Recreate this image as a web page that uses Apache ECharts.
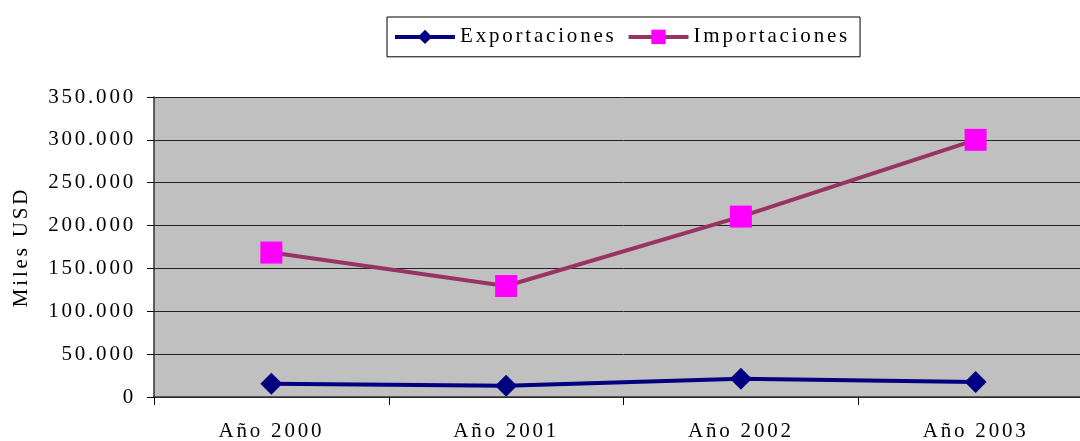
<!DOCTYPE html>
<html>
<head>
<meta charset="utf-8">
<script src="https://cdn.jsdelivr.net/npm/echarts@6/dist/echarts.min.js"></script>
<style>
html,body{margin:0;padding:0;background:#fff;overflow:hidden;}
#c{width:1093px;height:441px;}
</style>
</head>
<body>
<div id="c"></div>
<script>
// Excel-like character spacing for all text (applied to both drawing and measuring)
(function () {
  const P = CanvasRenderingContext2D.prototype;
  const ft = P.fillText, mt = P.measureText;
  P.fillText = function () { try { this.letterSpacing = '2.8px'; } catch (e) {} return ft.apply(this, arguments); };
  P.measureText = function () { try { this.letterSpacing = '2.8px'; } catch (e) {} return mt.apply(this, arguments); };
})();

const categories = ['Año 2000', 'Año 2001', 'Año 2002', 'Año 2003'];
const exportaciones = [15500, 13200, 21300, 17500];
const importaciones = [168500, 129500, 210500, 300000];
const yTicks = { min: 0, max: 350000, interval: 50000 };

const font = 'serif';

function draw() {
  const chart = echarts.init(document.getElementById('c'), null, { renderer: 'canvas' });
  chart.setOption({
    animation: false,
    textStyle: { fontFamily: font },
    legend: {
      left: 387, top: 17,
      padding: [8, 10, 8, 6],
      itemGap: 10,
      itemWidth: 60, itemHeight: 18,
      borderColor: '#000', borderWidth: 1,
      lineStyle: { width: 4 },
      textStyle: { fontFamily: font, fontSize: 21, color: '#000' },
      data: ['Exportaciones', 'Importaciones']
    },
    grid: {
      left: 154, top: 97, bottom: 44, right: 0,
      outerBoundsMode: 'none', containLabel: false,
      show: true, backgroundColor: '#C0C0C0', borderWidth: 0
    },
    xAxis: {
      type: 'category',
      data: categories,
      axisLine: { lineStyle: { color: '#333', width: 1.5 } },
      axisTick: { show: true, length: 8, lineStyle: { color: '#000' } },
      axisLabel: { fontFamily: font, fontSize: 21, color: '#000', margin: 23 }
    },
    yAxis: {
      type: 'value',
      min: yTicks.min, max: yTicks.max, interval: yTicks.interval,
      name: 'Miles USD', nameLocation: 'middle', nameGap: 121,
      nameTextStyle: { fontFamily: font, fontSize: 21, color: '#000' },
      axisLine: { show: true, lineStyle: { color: '#333', width: 1.5 } },
      axisTick: { show: true, length: 7, lineStyle: { color: '#000' } },
      axisLabel: {
        fontFamily: font, fontSize: 21, color: '#000', margin: 18,
        formatter: v => v === 0 ? '0' : v.toLocaleString('de-DE')
      },
      splitLine: { show: true, lineStyle: { color: '#222', width: 1 } }
    },
    series: [
      {
        name: 'Exportaciones', type: 'line', data: exportaciones,
        symbol: 'diamond', symbolSize: 22,
        lineStyle: { color: '#000080', width: 4 },
        itemStyle: { color: '#000080' }
      },
      {
        name: 'Importaciones', type: 'line', data: importaciones,
        symbol: 'rect', symbolSize: 22,
        lineStyle: { color: '#993366', width: 4 },
        itemStyle: { color: '#FF00FF' }
      }
    ]
  });
}
if (document.fonts && document.fonts.load) {
  document.fonts.load('21px serif').then(draw, draw);
} else {
  draw();
}
</script>
</body>
</html>
